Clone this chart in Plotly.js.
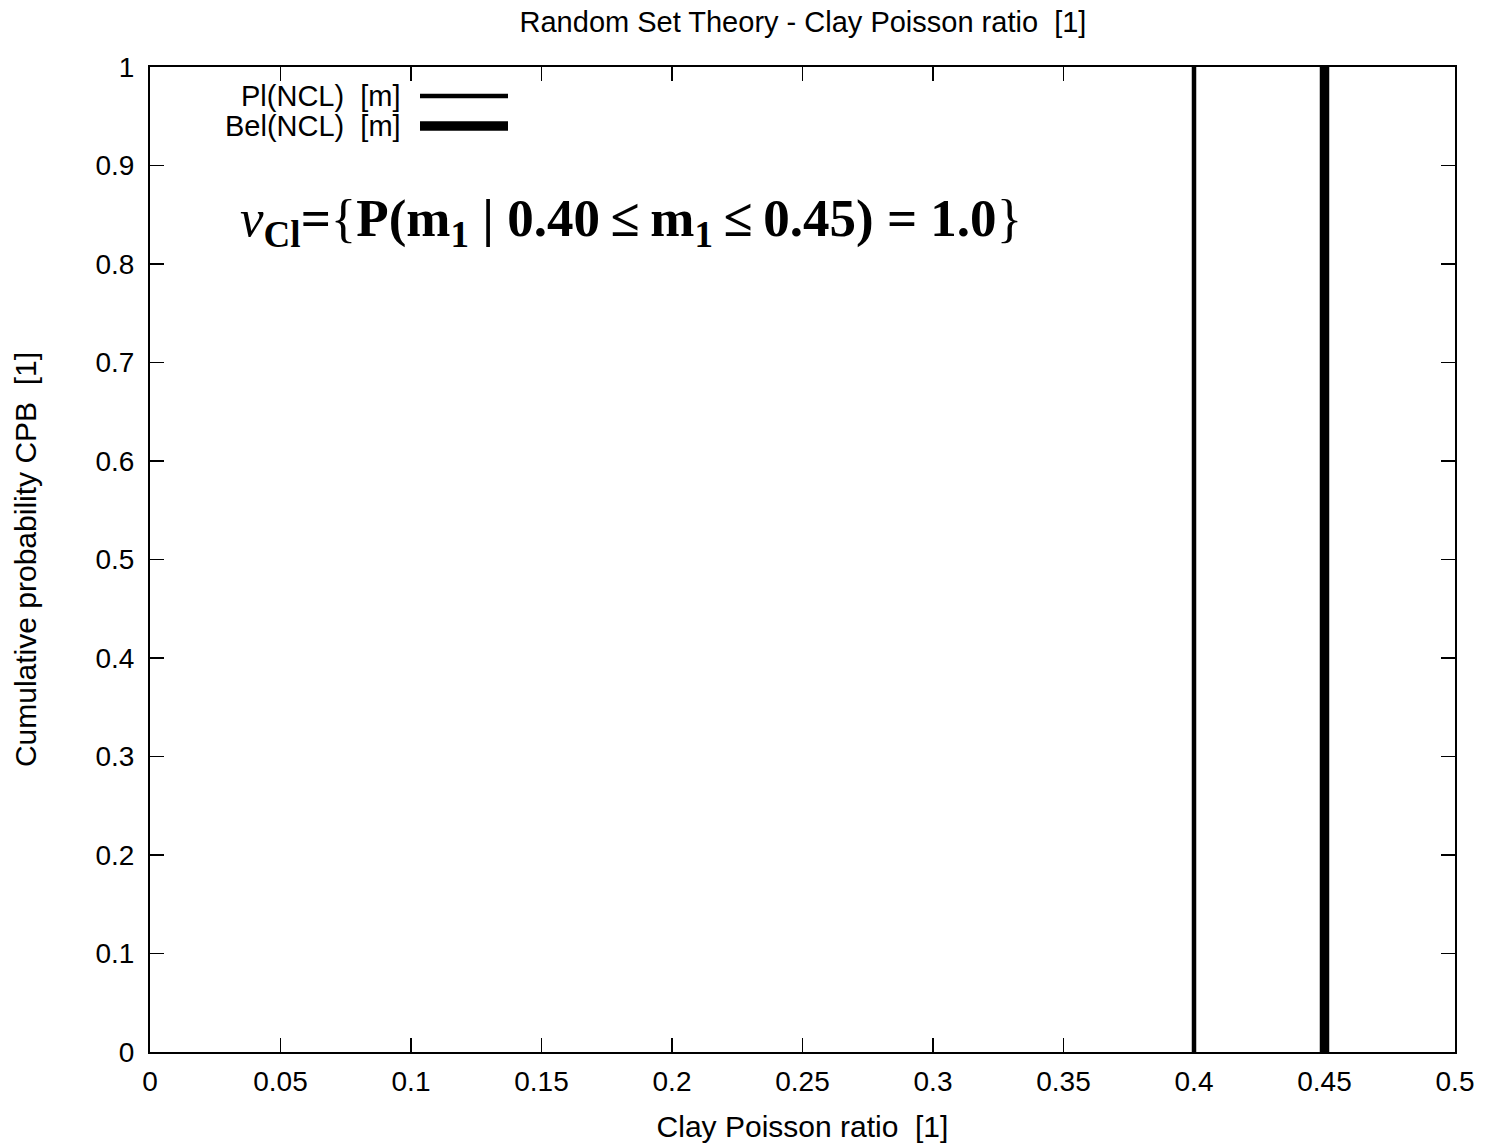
<!DOCTYPE html>
<html><head><meta charset="utf-8">
<script src="https://cdn.plot.ly/plotly-3.0.1.min.js"></script>
<style>html,body{margin:0;padding:0;background:#fff}#chart{width:1487px;height:1146px}</style>
</head><body><div id="chart"></div>
<script>
const plX = [0.40, 0.40];
const plY = [0, 1];
const belX = [0.45, 0.45];
const belY = [0, 1];
const legendLabels = ['Pl(NCL)\u00a0\u00a0[m]', 'Bel(NCL)\u00a0\u00a0[m]'];
const titleText = 'Random Set Theory - Clay Poisson ratio\u00a0\u00a0[1]';
const xTitle = 'Clay Poisson ratio\u00a0\u00a0[1]';
const yTitle = 'Cumulative probability CPB\u00a0\u00a0[1]';

const font = 'Liberation Sans, Arial, sans-serif';
const traces = [
  {x: plX, y: plY, mode: 'lines', line: {color: '#000', width: 4.5}, showlegend: false, hoverinfo: 'skip'},
  {x: belX, y: belY, mode: 'lines', line: {color: '#000', width: 9.5}, showlegend: false, hoverinfo: 'skip'}
];
const axisCommon = {
  showgrid: false, zeroline: false, showline: true, linecolor: '#000', linewidth: 2,
  mirror: 'ticks', ticks: 'inside', ticklen: 14, tickwidth: 1.5, tickcolor: '#000',
  tickfont: {family: font, size: 28, color: '#000'}
};
const layout = {
  width: 1487, height: 1146,
  margin: {l: 150, r: 32, t: 67, b: 94},
  paper_bgcolor: '#fff', plot_bgcolor: '#fff',
  title: {text: titleText, font: {family: font, size: 29, color: '#000'}, x: 0.54, xanchor: 'center', y: 1 - 22/1146, yanchor: 'middle'},
  xaxis: Object.assign({}, axisCommon, {range: [0, 0.5], dtick: 0.05, tick0: 0, ticklabelstandoff: 3,
    title: {text: xTitle, font: {family: font, size: 30, color: '#000'}, standoff: 20}}),
  yaxis: Object.assign({}, axisCommon, {range: [0, 1], dtick: 0.1, tick0: 0, ticklabelstandoff: 8,
    title: {text: yTitle, font: {family: font, size: 30, color: '#000'}, standoff: 50}}),
  showlegend: false,
  annotations: [
    {xref: 'paper', yref: 'paper', x: (403-150)/1305, y: (1052-96)/985, xanchor: 'right', yanchor: 'middle',
     text: legendLabels[0], showarrow: false, font: {family: font, size: 29, color: '#000'}},
    {xref: 'paper', yref: 'paper', x: (403-150)/1305, y: (1052-126)/985, xanchor: 'right', yanchor: 'middle',
     text: legendLabels[1], showarrow: false, font: {family: font, size: 29, color: '#000'}},
    {xref: 'paper', yref: 'paper', x: (238-150)/1305, y: (1052-222)/985, xanchor: 'left', yanchor: 'middle', showarrow: false,
     font: {family: 'Liberation Serif, DejaVu Serif, serif', size: 53, color: '#000'},
     text: '<i>ν</i><sub><b>Cl</b></sub><b>=</b><span style="font-weight:normal">{</span><b>P(m<sub>1</sub> | 0.40\u2009≤\u2009m<sub>1</sub>\u2009≤\u20090.45) = 1.0</b><span style="font-weight:normal">}</span>'}
  ],
  shapes: [
    {type: 'line', xref: 'paper', yref: 'paper', x0: (420-150)/1305, x1: (508-150)/1305, y0: (1052-96)/985, y1: (1052-96)/985, line: {color: '#000', width: 4.5}},
    {type: 'line', xref: 'paper', yref: 'paper', x0: (420-150)/1305, x1: (508-150)/1305, y0: (1052-126)/985, y1: (1052-126)/985, line: {color: '#000', width: 9.5}}
  ]
};
Plotly.newPlot('chart', traces, layout, {displayModeBar: false, staticPlot: true});
</script></body></html>
